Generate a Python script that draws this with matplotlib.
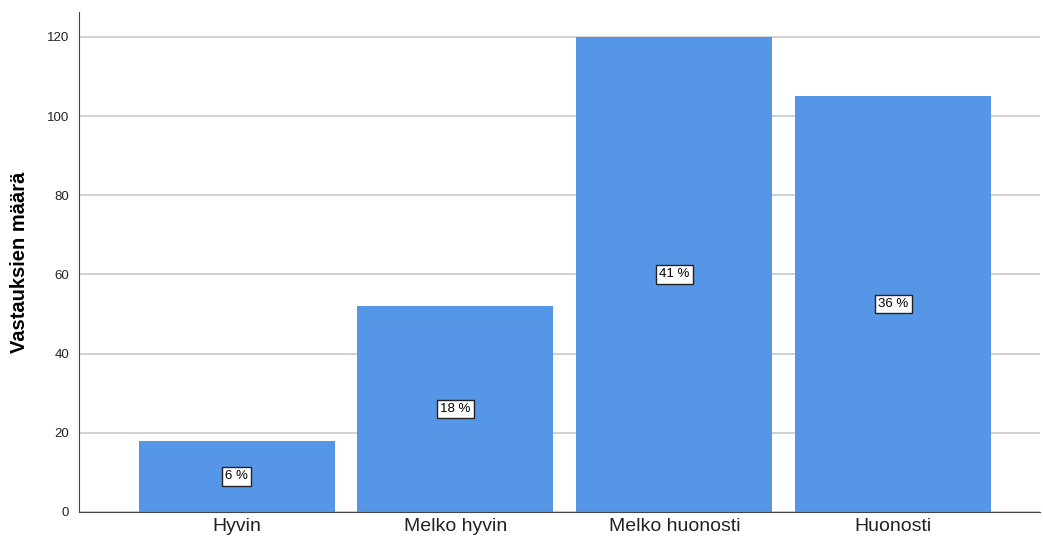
import matplotlib
matplotlib.use("Agg")
import matplotlib.pyplot as plt

plt.rcParams["font.family"] = ["Liberation Sans", "DejaVu Sans"]

categories = ["Hyvin", "Melko hyvin", "Melko huonosti", "Huonosti"]
counts = [18, 52, 120, 105]
pct_labels = ["6 %", "18 %", "41 %", "36 %"]

fig = plt.figure(figsize=(10.43, 5.42), dpi=100)
ax = fig.add_axes([0.0757, 0.0554, 0.9213, 0.9225])

x = list(range(len(categories)))
ax.bar(x, counts, width=0.895, color="#5596E6", zorder=2)

for xi, c, lab in zip(x, counts, pct_labels):
    ax.text(xi, c / 2, lab, ha="center", va="center", fontsize=9.5, zorder=3,
            bbox=dict(boxstyle="square,pad=0.25", fc="white", ec="#222222", lw=1))

ax.set_xlim(-0.72, 3.67)
ax.set_ylim(0, 126.3)
ax.set_yticks([0, 20, 40, 60, 80, 100, 120])
ax.yaxis.grid(True, color="#D0D0D0", lw=1.4, zorder=0)
ax.set_axisbelow(True)

ax.set_xticks(x)
ax.set_xticklabels(categories, fontsize=14, color="#222222")
ax.tick_params(axis="y", labelsize=9.5, labelcolor="#222222", length=0, pad=7)
ax.tick_params(axis="x", length=0, pad=4)

for side in ["top", "right"]:
    ax.spines[side].set_visible(False)
ax.spines["left"].set_color("#444444")
ax.spines["bottom"].set_color("#444444")

ax.set_ylabel("Vastauksien määrä", fontsize=14.5, fontweight="bold", labelpad=13)

fig.savefig("out.png", dpi=100)
